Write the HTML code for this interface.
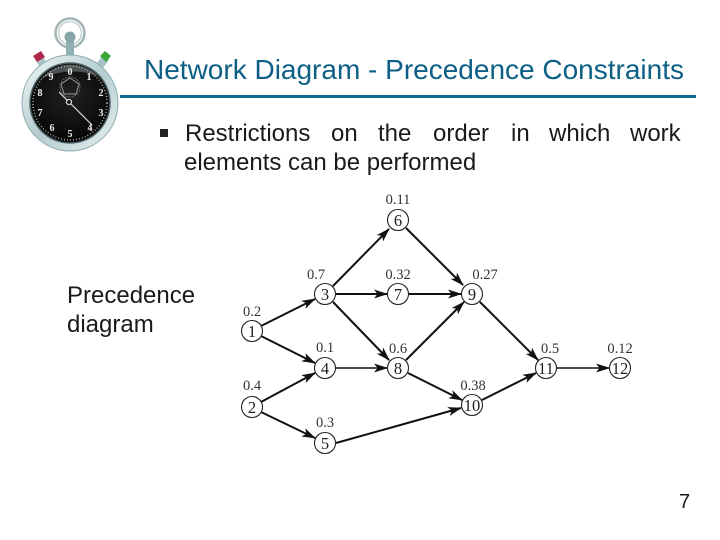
<!DOCTYPE html>
<html><head><meta charset="utf-8"><style>html,body{margin:0;padding:0;background:#fff}svg{display:block}
.s{font-family:"Liberation Sans",sans-serif;fill:#1a1a1a}
.n{font-family:"Liberation Serif",serif;font-size:16.5px;fill:#222;text-anchor:middle}
.l{font-family:"Liberation Serif",serif;font-size:14.5px;fill:#333;text-anchor:middle}
.e{stroke:#111;stroke-width:2;fill:none;marker-end:url(#a)}
.t{stroke:#111;stroke-width:1.5;fill:none;marker-end:url(#a)}
.c{fill:#fff;stroke:#222;stroke-width:1.1}
.w{font-family:"Liberation Serif",serif;font-weight:bold;font-size:10px;fill:#eee;text-anchor:middle}
</style></head><body>
<svg width="720" height="540" viewBox="0 0 720 540" xmlns="http://www.w3.org/2000/svg">
<defs>
<marker id="a" viewBox="0 0 14 9" refX="13" refY="4.5" markerUnits="userSpaceOnUse" markerWidth="14" markerHeight="9" orient="auto"><path d="M0 0L14 4.5L0 9L3.5 4.5Z" fill="#111"/></marker>
<radialGradient id="f" cx=".5" cy=".4" r=".7"><stop offset="0" stop-color="#222"/><stop offset="1" stop-color="#000"/></radialGradient>
<linearGradient id="m" x1="0" y1="0" x2="1" y2="1"><stop offset="0" stop-color="#f2f7f7"/><stop offset=".5" stop-color="#b4cdd0"/><stop offset="1" stop-color="#e8f1f1"/></linearGradient>
</defs>
<!-- stopwatch -->
<circle cx="70" cy="33" r="14.5" fill="none" stroke="#a3b4b5" stroke-width="2.5"/>
<circle cx="70" cy="33" r="11.5" fill="none" stroke="#c4d1d1" stroke-width="1.5"/>
<rect x="66" y="38" width="8" height="18" fill="#8fb0b4"/>
<circle cx="70" cy="37" r="5.5" fill="#8aa5a9"/>
<path d="M36 61l7-4 5 8-7 4z" fill="#a8c4c6"/><path d="M33 56l8-5 4 6-8 5z" fill="#b0284a"/>
<path d="M96 64l6-8 7 4-6 8z" fill="#a8c4c6"/><path d="M100 56l5-5 6 5-5 6z" fill="#3aa63c"/>
<circle cx="70" cy="103" r="48" fill="url(#m)" stroke="#8fadb0" stroke-width="1"/>
<circle cx="70" cy="103" r="40" fill="url(#f)" stroke="#4d6165" stroke-width="1.5"/>
<path d="M42 78A38 38 0 0 1 98 76Q70 66 42 78Z" fill="#7d8687" opacity=".55"/>
<circle cx="70" cy="103" r="37" fill="none" stroke="#aaa" stroke-width="1.5" stroke-dasharray="1 2"/>
<text class="w" x="70" y="75">0</text><text class="w" x="89" y="80">1</text><text class="w" x="101" y="96">2</text><text class="w" x="101" y="116">3</text><text class="w" x="90" y="131">4</text><text class="w" x="70" y="137">5</text><text class="w" x="52" y="131">6</text><text class="w" x="40" y="116">7</text><text class="w" x="40" y="96">8</text><text class="w" x="51" y="80">9</text>
<path d="M70 78l9 6-3 10H64l-3-10z" fill="none" stroke="#999" stroke-width="1"/><circle cx="70" cy="87" r="10" fill="none" stroke="#666" stroke-width="1" stroke-dasharray="2 1"/>
<path d="M59 92L70 103L92 125" stroke="#ddd" stroke-width="1.2" fill="none"/><circle cx="69" cy="102" r="2.5" fill="#111" stroke="#ddd" stroke-width="1.2"/>
<!-- title -->
<text class="s" x="144" y="79" font-size="28" style="fill:#0d5f85">Network Diagram - Precedence Constraints</text>
<rect x="120" y="95" width="576" height="3" fill="#0e6a8e"/>
<!-- bullet -->
<rect x="160" y="129" width="8" height="8" fill="#222"/>
<g class="s" font-size="24">
<text x="185" y="141">Restrictions</text><text x="331" y="141">on</text><text x="378" y="141">the</text><text x="433" y="141">order</text><text x="511" y="141">in</text><text x="549" y="141">which</text><text x="630" y="141">work</text>
<text x="184" y="170">elements can be performed</text>
<text x="67" y="303">Precedence</text>
<text x="67" y="332">diagram</text>
<text x="679" y="508" font-size="20">7</text>
</g>
<!-- edges -->
<line class="e" x1="261" y1="326" x2="315" y2="299"/>
<line class="e" x1="261" y1="336" x2="315" y2="363"/>
<line class="e" x1="261" y1="402" x2="315" y2="373"/>
<line class="e" x1="261" y1="412" x2="315" y2="438"/>
<line class="e" x1="333" y1="286" x2="389" y2="229"/>
<line class="e" x1="336" y1="294" x2="387" y2="294"/>
<line class="e" x1="333" y1="302" x2="389" y2="360"/>
<line class="t" x1="336" y1="368" x2="387" y2="368"/>
<line class="e" x1="336" y1="443" x2="461" y2="408"/>
<line class="e" x1="406" y1="228" x2="463" y2="285"/>
<line class="e" x1="409" y1="294" x2="461" y2="294"/>
<line class="e" x1="406" y1="360" x2="464" y2="302"/>
<line class="e" x1="408" y1="373" x2="462" y2="400"/>
<line class="e" x1="480" y1="302" x2="538" y2="360"/>
<line class="e" x1="482" y1="400" x2="536" y2="373"/>
<line class="t" x1="557" y1="368" x2="609" y2="368"/>
<!-- nodes -->
<g>
<circle class="c" cx="252" cy="331" r="10.5"/><circle class="c" cx="252" cy="407" r="10.5"/><circle class="c" cx="325" cy="294" r="10.5"/><circle class="c" cx="325" cy="368" r="10.5"/><circle class="c" cx="325" cy="443" r="10.5"/><circle class="c" cx="398" cy="220" r="10.5"/><circle class="c" cx="398" cy="294" r="10.5"/><circle class="c" cx="398" cy="368" r="10.5"/><circle class="c" cx="472" cy="294" r="10.5"/><circle class="c" cx="472" cy="405" r="10.5"/><circle class="c" cx="546" cy="368" r="10.5"/><circle class="c" cx="620" cy="368" r="10.5"/>
</g>
<text class="n" x="252" y="337">1</text><text class="n" x="252" y="413">2</text><text class="n" x="325" y="300">3</text><text class="n" x="325" y="374">4</text><text class="n" x="325" y="449">5</text><text class="n" x="398" y="226">6</text><text class="n" x="398" y="300">7</text><text class="n" x="398" y="374">8</text><text class="n" x="472" y="300">9</text><text class="n" x="472" y="411">10</text><text class="n" x="546" y="374">11</text><text class="n" x="620" y="374">12</text>
<text class="l" x="252" y="316">0.2</text><text class="l" x="252" y="390">0.4</text><text class="l" x="316" y="279">0.7</text><text class="l" x="325" y="352">0.1</text><text class="l" x="325" y="427">0.3</text><text class="l" x="398" y="204">0.11</text><text class="l" x="398" y="279">0.32</text><text class="l" x="398" y="353">0.6</text><text class="l" x="485" y="279">0.27</text><text class="l" x="473" y="390">0.38</text><text class="l" x="550" y="353">0.5</text><text class="l" x="620" y="353">0.12</text>
</svg>
</body></html>
